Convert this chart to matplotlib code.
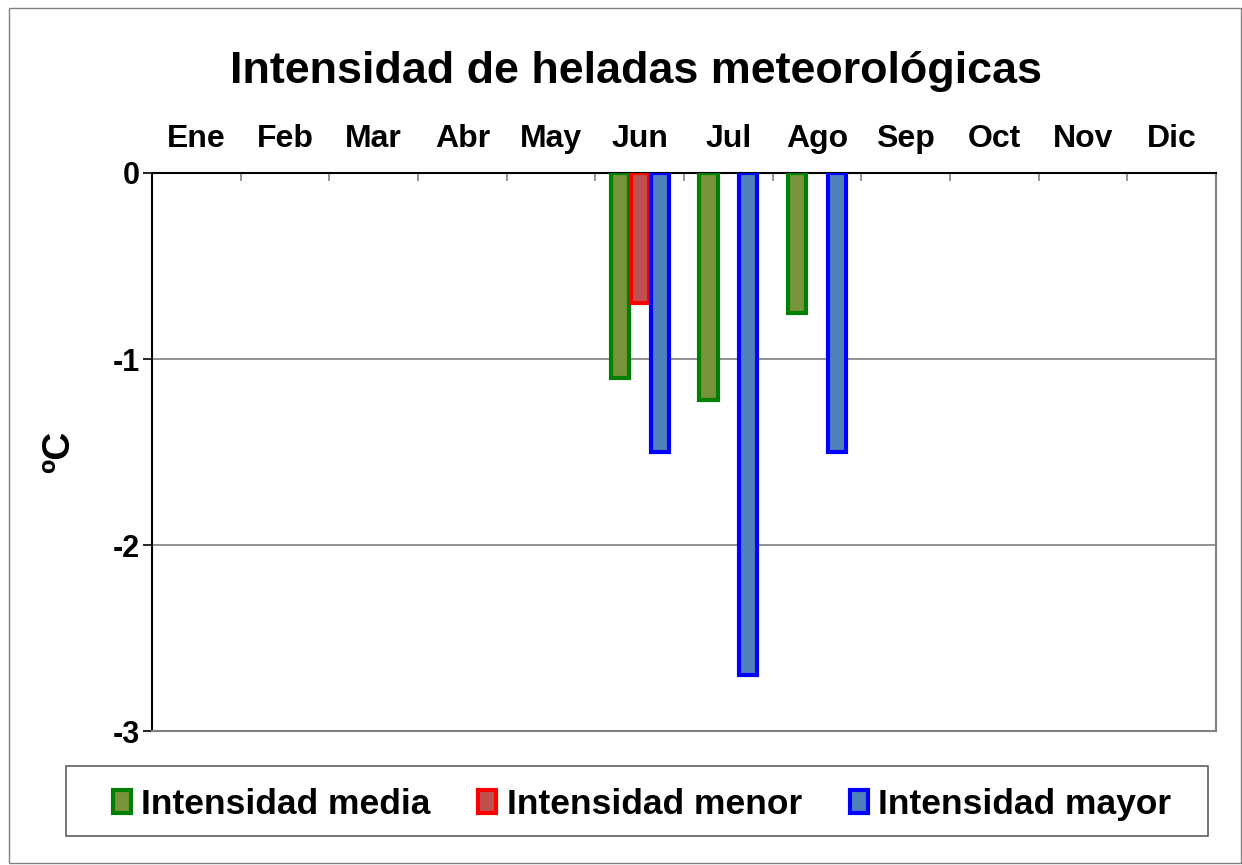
import numpy as np
import matplotlib.pyplot as plt
from matplotlib.patches import Rectangle

plt.rcParams['font.family'] = ['Liberation Sans', 'DejaVu Sans']
plt.rcParams['font.weight'] = 'bold'

meses = ["Ene", "Feb", "Mar", "Abr", "May", "Jun", "Jul", "Ago", "Sep", "Oct", "Nov", "Dic"]
media = [0, 0, 0, 0, 0, -1.10, -1.22, -0.75, 0, 0, 0, 0]
menor = [0, 0, 0, 0, 0, -0.70, 0, 0, 0, 0, 0, 0]
mayor = [0, 0, 0, 0, 0, -1.50, -2.70, -1.50, 0, 0, 0, 0]

series = [
    ("Intensidad media", media, "#77933C", "#008000"),
    ("Intensidad menor", menor, "#C0504D", "#FF0000"),
    ("Intensidad mayor", mayor, "#4F81BD", "#0000FF"),
]

fig = plt.figure(figsize=(12.42, 8.65), dpi=100)
ax = fig.add_axes([0.1224, 0.1549, 0.8567, 0.6451])

x = np.arange(len(meses))
offsets = [-0.225, 0.0, 0.225]
handles = []
for (nombre, vals, fill, edge), off in zip(series, offsets):
    vals = np.array(vals)
    mask = vals != 0
    ax.bar(x[mask] + off, vals[mask], width=0.205, color=fill, edgecolor=edge,
           linewidth=3, zorder=3)
    handles.append(Rectangle((0, 0), 1, 1, facecolor=fill, edgecolor=edge, linewidth=3))

ax.set_xlim(-0.5, 11.5)
ax.set_ylim(-3, 0)
ax.set_yticks([0, -1, -2, -3])
ax.set_yticklabels(["0", "-1", "-2", "-3"], fontsize=22, fontweight='bold')
ax.tick_params(axis='y', direction='out', length=6.5, width=1.2, pad=2, color='black')

ax.xaxis.tick_top()
ax.set_xticks(x)
ax.set_xticklabels(meses, fontsize=23, fontweight='bold')
ax.set_xticks(np.arange(-0.5, 12, 1), minor=True)
ax.tick_params(axis='x', which='major', length=0, pad=13.5)
ax.tick_params(axis='x', which='minor', direction='in', length=6, width=1.2, color='#808080')

ax.grid(axis='y', color='#808080', linewidth=1.2, zorder=0)
ax.spines['top'].set_color('black')
ax.spines['left'].set_color('black')
ax.spines['right'].set_color('#808080')
ax.spines['bottom'].set_color('#808080')
for s in ax.spines.values():
    s.set_linewidth(1.5)

ax.set_ylabel("ºC", fontsize=28, fontweight='bold', labelpad=26)
fig.text(0.512, 0.917, "Intensidad de heladas meteorológicas", ha='center', va='center',
         fontsize=32.3, fontweight='bold')

# caja de la leyenda
fig.patches.append(Rectangle((66 / 1242, 1 - 836 / 865), 1142 / 1242, 70 / 865,
                             transform=fig.transFigure, facecolor='none',
                             edgecolor='#606060', linewidth=1.2))
fig.legend(handles, [s[0] for s in series], loc='center', bbox_to_anchor=(0.517, 0.070),
           ncol=3, frameon=False, handlelength=0.5, handleheight=0.65,
           handletextpad=0.3, columnspacing=1.35, prop={'weight': 'bold', 'size': 25.5})

# marco exterior
fig.patches.append(Rectangle((9 / 1242, 0.002), 1 - 10 / 1242, 1 - 10 / 865,
                             transform=fig.transFigure, facecolor='none',
                             edgecolor='#808080', linewidth=1))

fig.savefig("out.png", dpi=100)
